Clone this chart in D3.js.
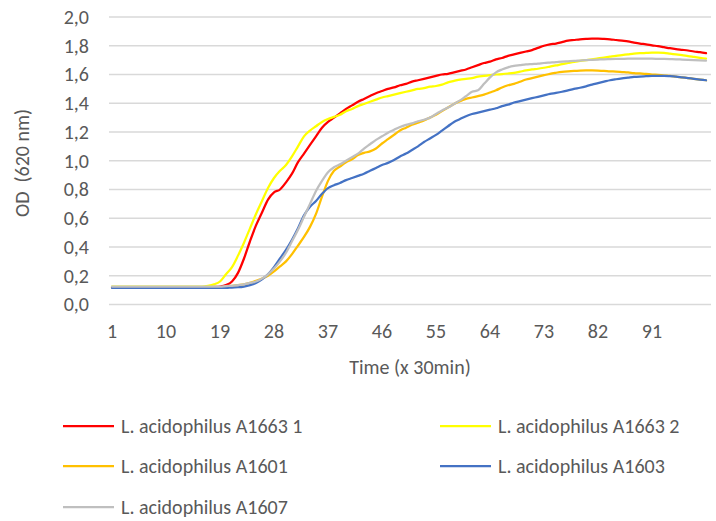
<!DOCTYPE html>
<html>
<head>
<meta charset="utf-8">
<script src="https://cdn.jsdelivr.net/npm/d3@7"></script>
<style>
  html, body { margin: 0; padding: 0; background: #fff; }
  svg { display: block; }
  text { font-family: Carlito, Calibri, Lato, "Liberation Sans", sans-serif; fill: #595959; }
</style>
</head>
<body>
<div id="chart"></div>
<script>
// ---- Data ----
const categories = d3.range(1, 101);
const tickLabels = [1, 10, 19, 28, 37, 46, 55, 64, 73, 82, 91];
const yTicks = [0, 0.2, 0.4, 0.6, 0.8, 1.0, 1.2, 1.4, 1.6, 1.8, 2.0];

const seriesNames = [
  "L. acidophilus A1663 1",
  "L. acidophilus A1663 2",
  "L. acidophilus A1601",
  "L. acidophilus A1603",
  "L. acidophilus A1607"
];
const seriesColors = ["#FF0000", "#FFFF00", "#FFC000", "#4472C4", "#BFBFBF"];

const red = [
  0.12,0.12,0.12,0.12,0.12,0.12,0.12,0.12,0.12,0.12,
  0.12,0.12,0.12,0.12,0.12,0.12,0.12,0.122,0.125,0.135,
  0.16,0.22,0.32,0.44,0.55,0.64,0.73,0.78,0.80,0.85,
  0.91,0.99,1.05,1.11,1.17,1.23,1.27,1.30,1.33,1.36,
  1.385,1.41,1.43,1.45,1.47,1.485,1.50,1.51,1.525,1.535,
  1.55,1.56,1.57,1.58,1.59,1.60,1.605,1.615,1.625,1.635,
  1.65,1.665,1.68,1.69,1.705,1.715,1.73,1.74,1.75,1.76,
  1.77,1.785,1.80,1.81,1.815,1.825,1.835,1.84,1.845,1.848,
  1.85,1.85,1.848,1.845,1.84,1.835,1.83,1.822,1.815,1.81,
  1.803,1.797,1.79,1.783,1.777,1.772,1.767,1.76,1.755,1.748
];
const yellow = [
  0.125,0.125,0.125,0.125,0.125,0.125,0.125,0.125,0.125,0.125,
  0.125,0.125,0.125,0.125,0.125,0.125,0.13,0.14,0.16,0.21,
  0.26,0.34,0.43,0.53,0.63,0.72,0.81,0.88,0.93,0.97,
  1.03,1.10,1.17,1.21,1.24,1.27,1.29,1.305,1.32,1.345,
  1.36,1.38,1.395,1.41,1.425,1.44,1.45,1.46,1.47,1.48,
  1.49,1.50,1.505,1.515,1.52,1.53,1.545,1.555,1.565,1.57,
  1.575,1.585,1.59,1.595,1.60,1.603,1.607,1.612,1.62,1.628,
  1.635,1.64,1.647,1.655,1.663,1.672,1.68,1.688,1.695,1.70,
  1.705,1.712,1.718,1.724,1.73,1.735,1.74,1.745,1.748,1.75,
  1.752,1.752,1.75,1.745,1.74,1.735,1.728,1.722,1.716,1.71
];
const orange = [
  0.12,0.115,0.115,0.12,0.12,0.12,0.12,0.12,0.12,0.12,
  0.12,0.12,0.12,0.12,0.12,0.12,0.12,0.12,0.12,0.125,
  0.13,0.135,0.14,0.15,0.165,0.18,0.20,0.23,0.265,0.30,
  0.35,0.41,0.47,0.54,0.63,0.75,0.86,0.93,0.96,0.99,
  1.01,1.04,1.055,1.065,1.085,1.12,1.15,1.18,1.21,1.23,
  1.25,1.265,1.28,1.30,1.32,1.345,1.37,1.395,1.415,1.43,
  1.44,1.45,1.46,1.475,1.49,1.51,1.525,1.535,1.55,1.565,
  1.575,1.585,1.595,1.605,1.612,1.618,1.622,1.625,1.627,1.628,
  1.628,1.627,1.625,1.622,1.62,1.617,1.614,1.61,1.607,1.604,
  1.60,1.597,1.593,1.59,1.585,1.58,1.575,1.57,1.565,1.56
];
const blue = [
  0.115,0.115,0.115,0.115,0.115,0.115,0.115,0.115,0.115,0.115,
  0.115,0.115,0.115,0.115,0.115,0.115,0.115,0.115,0.115,0.115,
  0.118,0.12,0.125,0.135,0.15,0.175,0.21,0.26,0.32,0.38,
  0.45,0.53,0.62,0.68,0.72,0.77,0.81,0.83,0.845,0.865,
  0.88,0.895,0.91,0.93,0.95,0.97,0.985,1.005,1.03,1.05,
  1.075,1.10,1.13,1.155,1.18,1.21,1.24,1.27,1.29,1.31,
  1.325,1.335,1.345,1.355,1.365,1.38,1.39,1.405,1.415,1.425,
  1.435,1.445,1.455,1.465,1.472,1.48,1.49,1.50,1.508,1.518,
  1.53,1.54,1.55,1.56,1.567,1.573,1.578,1.583,1.586,1.588,
  1.59,1.59,1.59,1.588,1.585,1.58,1.575,1.57,1.565,1.56
];
const grey = [
  0.125,0.125,0.125,0.125,0.125,0.125,0.125,0.125,0.125,0.125,
  0.125,0.125,0.125,0.125,0.125,0.125,0.125,0.125,0.125,0.128,
  0.13,0.135,0.14,0.15,0.16,0.18,0.21,0.25,0.30,0.36,
  0.44,0.52,0.61,0.70,0.79,0.86,0.92,0.955,0.975,1.00,
  1.025,1.05,1.085,1.115,1.145,1.17,1.195,1.215,1.235,1.25,
  1.26,1.275,1.285,1.30,1.325,1.35,1.37,1.395,1.42,1.45,
  1.48,1.49,1.535,1.58,1.615,1.635,1.65,1.66,1.665,1.67,
  1.673,1.676,1.68,1.683,1.686,1.69,1.692,1.694,1.697,1.70,
  1.702,1.704,1.706,1.707,1.708,1.709,1.71,1.71,1.71,1.71,
  1.71,1.709,1.708,1.707,1.706,1.704,1.702,1.70,1.698,1.696
];
const seriesValues = [red, yellow, orange, blue, grey];

// ---- Layout ----
const W = 716, H = 521;
const plot = { left: 109, right: 709, top: 17, bottom: 304.5 };
const FS = "20px";
const FF = "Carlito, Calibri, Lato, 'Liberation Sans', sans-serif";

const svg = d3.select("#chart").append("svg").attr("width", W).attr("height", H);

const x = d3.scaleBand().domain(categories).range([plot.left, plot.right]).padding(0);
const xc = c => x(c) + x.bandwidth() / 2;
const y = d3.scaleLinear().domain([0, 2]).range([plot.bottom, plot.top]);

const commaFmt = d3.formatLocale({ decimal: ",", thousands: ".", grouping: [3], currency: ["", ""] }).format(".1f");

// gridlines
svg.append("g").selectAll("line").data(yTicks).join("line")
  .attr("x1", plot.left).attr("x2", plot.right + 2)
  .attr("y1", d => y(d)).attr("y2", d => y(d))
  .attr("stroke", "#D9D9D9").attr("stroke-width", 1.5);

// y axis
const yAxis = svg.append("g").attr("transform", `translate(${plot.left - 20},0)`)
  .call(d3.axisLeft(y).tickValues(yTicks).tickFormat(commaFmt).tickSize(0).tickPadding(0));
yAxis.select(".domain").remove();
yAxis.selectAll("text").style("font-size", FS).attr("fill", "#595959").style("font-family", FF);

// x axis
const xAxis = svg.append("g").attr("transform", `translate(0,${plot.bottom})`)
  .call(d3.axisBottom(x).tickValues(tickLabels).tickSize(0).tickPadding(19));
xAxis.select(".domain").remove();
xAxis.selectAll("text").style("font-size", FS).attr("fill", "#595959").style("font-family", FF);

// axis titles
svg.append("text").attr("x", 410).attr("y", 374).attr("text-anchor", "middle")
  .style("font-size", FS).text("Time (x 30min)");
svg.append("text").attr("transform", "translate(29,163) rotate(-90)").attr("text-anchor", "middle")
  .style("font-size", FS).style("white-space", "pre").attr("xml:space", "preserve").text("OD  (620 nm)");

// lines
const line = d3.line().x((d, i) => xc(categories[i])).y(d => y(d)).curve(d3.curveMonotoneX);
svg.append("g").selectAll("path").data(seriesValues).join("path")
  .attr("d", d => line(d))
  .attr("fill", "none")
  .attr("stroke", (d, i) => seriesColors[i])
  .attr("stroke-width", 2.25)
  .attr("stroke-linejoin", "round").attr("stroke-linecap", "round");

// legend
const legendPos = [[63, 426], [440, 426], [63, 466], [440, 466], [63, 507]];
const lg = svg.append("g").selectAll("g").data(seriesNames).join("g")
  .attr("transform", (d, i) => `translate(${legendPos[i][0]},${legendPos[i][1]})`);
lg.append("line").attr("x1", 0).attr("x2", 51).attr("y1", 0).attr("y2", 0)
  .attr("stroke", (d, i) => seriesColors[i]).attr("stroke-width", 2.25);
lg.append("text").attr("x", 58).attr("y", 0).attr("dy", "0.35em")
  .style("font-size", FS).text(d => d);
</script>
</body>
</html>
